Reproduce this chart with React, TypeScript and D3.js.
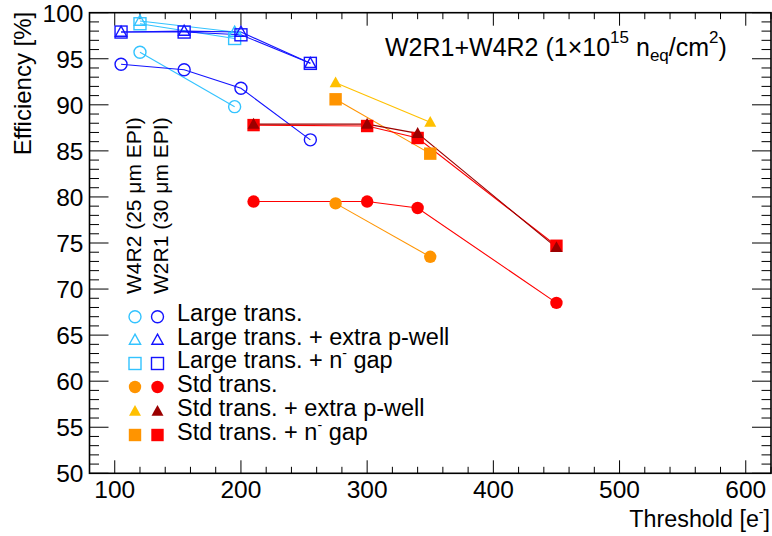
import React from "react";
import * as d3 from "d3";

// ---------------- DATA ----------------
// W2R1 (30 µm EPI), large transistor variants
const largeX_W2R1 = [105, 155, 200, 255];
const largeEff_W2R1 = [94.4, 93.8, 91.8, 86.2];
const largePwellEff_W2R1 = [97.9, 98.0, 97.9, 94.5];
const largeGapEff_W2R1 = [97.9, 97.9, 97.6, 94.5];

// W4R2 (25 µm EPI), large transistor variants
const largeX_W4R2 = [120, 195];
const largeEff_W4R2 = [95.7, 89.8];
const largePwellEff_W4R2 = [99.1, 97.9];
const largeGapEff_W4R2 = [98.8, 97.2];

// W2R1 (30 µm EPI), standard transistor variants
const stdX_W2R1 = [210, 300, 340, 450];
const stdEff_W2R1 = [79.5, 79.5, 78.8, 68.5];
const stdPwellEff_W2R1 = [87.9, 87.9, 86.9, 74.5];
const stdGapEff_W2R1 = [87.8, 87.7, 86.4, 74.7];

// W4R2 (25 µm EPI), standard transistor variants
const stdX_W4R2 = [275, 350];
const stdEff_W4R2 = [79.3, 73.5];
const stdPwellEff_W4R2 = [92.4, 88.1];
const stdGapEff_W4R2 = [90.6, 84.7];

const xTicks = [100, 200, 300, 400, 500, 600];
const yTicks = [50, 55, 60, 65, 70, 75, 80, 85, 90, 95, 100];

const legendLabels = [
  "Large trans.",
  "Large trans. + extra p-well",
  "Large trans. + n",
  "Std trans.",
  "Std trans. + extra p-well",
  "Std trans. + n",
];

type Shape = "circle" | "triangle" | "square";
interface Series {
  xs: number[];
  ys: number[];
  color: string;
  shape: Shape;
  filled: boolean;
}

const C_LIGHTBLUE = "#33c3ff";
const C_BLUE = "#1414ff";
const C_ORANGE = "#ff9400";
const C_YELLOW = "#ffc000";
const C_DARKRED = "#9b0000";
const C_RED = "#ff0000";

const series: Series[] = [
  { xs: largeX_W4R2, ys: largeEff_W4R2, color: C_LIGHTBLUE, shape: "circle", filled: false },
  { xs: largeX_W2R1, ys: largeEff_W2R1, color: C_BLUE, shape: "circle", filled: false },
  { xs: largeX_W4R2, ys: largePwellEff_W4R2, color: C_LIGHTBLUE, shape: "triangle", filled: false },
  { xs: largeX_W4R2, ys: largeGapEff_W4R2, color: C_LIGHTBLUE, shape: "square", filled: false },
  { xs: largeX_W2R1, ys: largePwellEff_W2R1, color: C_BLUE, shape: "triangle", filled: false },
  { xs: largeX_W2R1, ys: largeGapEff_W2R1, color: C_BLUE, shape: "square", filled: false },
  { xs: stdX_W4R2, ys: stdEff_W4R2, color: C_ORANGE, shape: "circle", filled: true },
  { xs: stdX_W4R2, ys: stdPwellEff_W4R2, color: C_YELLOW, shape: "triangle", filled: true },
  { xs: stdX_W4R2, ys: stdGapEff_W4R2, color: C_ORANGE, shape: "square", filled: true },
  { xs: stdX_W2R1, ys: stdEff_W2R1, color: C_RED, shape: "circle", filled: true },
  { xs: stdX_W2R1, ys: stdGapEff_W2R1, color: C_RED, shape: "square", filled: true },
  { xs: stdX_W2R1, ys: stdPwellEff_W2R1, color: C_DARKRED, shape: "triangle", filled: true },
];

const legendMarkers: [Series, Series][] = [
  [series[0], series[1]],
  [series[2], series[4]],
  [series[3], series[5]],
  [series[6], series[9]],
  [series[7], series[11]],
  [series[8], series[10]],
];

// ---------------- LAYOUT ----------------
const W = 772;
const H = 536;
const left = 89.5;
const right = 771;
const top = 12.7;
const bottom = 473.3;
const FONT = "'Liberation Sans', Arial, Helvetica, sans-serif";

const x = d3.scaleLinear().domain([80, 620]).range([left, right]);
const y = d3.scaleLinear().domain([50, 100]).range([bottom, top]);

function Marker({ cx, cy, s }: { cx: number; cy: number; s: Series }) {
  const fill = s.filled ? s.color : "none";
  const sw = s.filled ? 0 : 1.4;
  if (s.shape === "circle") {
    const r = s.filled ? 6.2 : 6;
    return <circle cx={cx} cy={cy} r={r} fill={fill} stroke={s.color} strokeWidth={sw} />;
  }
  if (s.shape === "square") {
    const h = s.filled ? 6.2 : 6;
    return (
      <rect x={cx - h} y={cy - h} width={2 * h} height={2 * h} fill={fill} stroke={s.color} strokeWidth={sw} />
    );
  }
  const a = s.filled ? 6 : 5.6;
  const pts = [
    [cx, cy - a * 1.05],
    [cx + a, cy + a * 0.75],
    [cx - a, cy + a * 0.75],
  ];
  return <polygon points={pts.map((p) => p.join(",")).join(" ")} fill={fill} stroke={s.color} strokeWidth={sw} />;
}

export default function App() {
  const line = d3
    .line<[number, number]>()
    .x((d) => x(d[0]))
    .y((d) => y(d[1]));

  const xMinor = d3.range(80, 621, 20);
  const yMinor = d3.range(50, 101, 1);

  const legendRowY = [316.7, 340, 363.5, 387, 411.3, 435];

  return (
    <svg width={W} height={H} style={{ position: "absolute", left: 0, top: 0, background: "#fff" }} fontFamily={FONT}>
      <rect x={0} y={0} width={W} height={H} fill="#fff" />
      {/* ticks */}
      <g stroke="#000" strokeWidth={1}>
        {xMinor.map((v) => {
          const major = v % 100 === 0;
          const L = major ? 13 : 6.5;
          return (
            <g key={"xt" + v}>
              <line x1={x(v)} x2={x(v)} y1={bottom} y2={bottom - L} />
              <line x1={x(v)} x2={x(v)} y1={top} y2={top + L} />
            </g>
          );
        })}
        {yMinor.map((v) => {
          const major = v % 5 === 0;
          const L = major ? 19 : 9.5;
          return (
            <g key={"yt" + v}>
              <line x1={left} x2={left + L} y1={y(v)} y2={y(v)} />
              <line x1={right} x2={right - L} y1={y(v)} y2={y(v)} />
            </g>
          );
        })}
      </g>
      <rect x={left} y={top} width={right - left} height={bottom - top} fill="none" stroke="#000" strokeWidth={1.6} />

      {/* tick labels */}
      <g fontSize={24.5} fill="#000">
        {xTicks.map((v) => (
          <text key={"xl" + v} x={x(v)} y={498} textAnchor="middle">
            {v}
          </text>
        ))}
        {yTicks.map((v) => (
          <text key={"yl" + v} x={83.5} y={y(v) + 8.8} textAnchor="end">
            {v}
          </text>
        ))}
      </g>

      {/* axis titles */}
      <text x={770} y={527} fontSize={23.3} textAnchor="end">
        Threshold [e
        <tspan dy={-10} fontSize={14}>
          -
        </tspan>
        <tspan dy={10}>]</tspan>
      </text>
      <text transform={`translate(31,${top - 1}) rotate(-90)`} fontSize={24} textAnchor="end">
        Efficiency [%]
      </text>

      {/* title */}
      <text x={385} y={56} fontSize={25}>
        W2R1+W4R2 (1×10
        <tspan dy={-13} fontSize={17}>
          15
        </tspan>
        <tspan dy={13}> n</tspan>
        <tspan dy={4.5} fontSize={17}>
          eq
        </tspan>
        <tspan dy={-4.5}>/cm</tspan>
        <tspan dy={-13} fontSize={17}>
          2
        </tspan>
        <tspan dy={13}>)</tspan>
      </text>

      {/* series */}
      {series.map((s, i) => (
        <path
          key={"l" + i}
          d={line(s.xs.map((v, j) => [v, s.ys[j]]) as [number, number][]) || ""}
          fill="none"
          stroke={s.color}
          strokeWidth={1.1}
        />
      ))}
      {series.map((s, i) => (
        <g key={"m" + i}>
          {s.xs.map((v, j) => (
            <Marker key={j} cx={x(v)} cy={y(s.ys[j])} s={s} />
          ))}
        </g>
      ))}

      {/* legend headers */}
      <text transform="translate(141,294) rotate(-90)" fontSize={21}>
        W4R2 (25 μm EPI)
      </text>
      <text transform="translate(168,294) rotate(-90)" fontSize={21}>
        W2R1 (30 μm EPI)
      </text>

      {/* legend entries */}
      {legendMarkers.map(([a, b], i) => (
        <g key={"lg" + i}>
          <Marker cx={135} cy={legendRowY[i]} s={a} />
          <Marker cx={157.5} cy={legendRowY[i]} s={b} />
          <text x={177} y={legendRowY[i] + 4.5} fontSize={23.5}>
            {legendLabels[i]}
            {legendLabels[i].endsWith("+ n") ? (
              <>
                <tspan dy={-10} fontSize={14}>
                  -
                </tspan>
                <tspan dy={10}> gap</tspan>
              </>
            ) : null}
          </text>
        </g>
      ))}
    </svg>
  );
}
